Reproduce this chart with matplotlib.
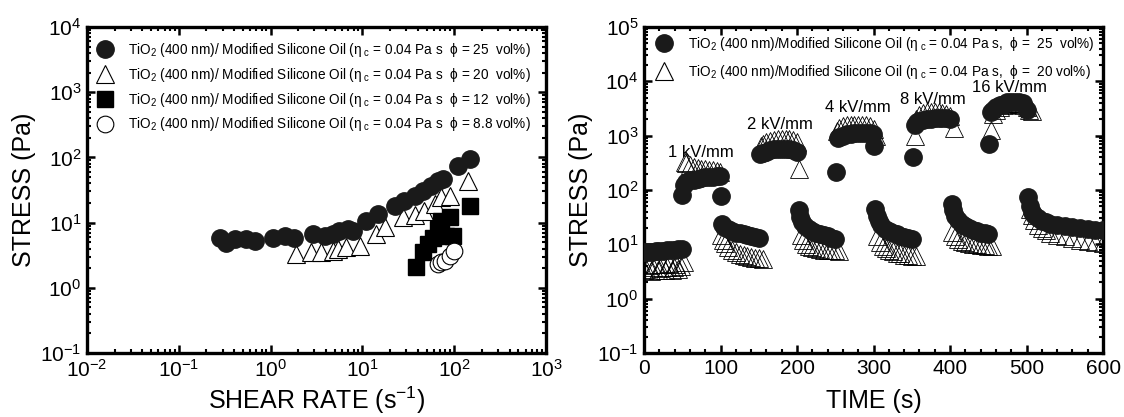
import matplotlib
matplotlib.use("Agg")
import matplotlib.pyplot as plt
from matplotlib.ticker import LogLocator, MultipleLocator, NullFormatter
from matplotlib.lines import Line2D

plt.rcParams['font.family'] = ['Liberation Sans', 'DejaVu Sans']
plt.rcParams['mathtext.fontset'] = 'custom'
plt.rcParams['mathtext.rm'] = 'Liberation Sans'
plt.rcParams['mathtext.it'] = 'Liberation Sans:italic'
plt.rcParams['mathtext.bf'] = 'Liberation Sans:bold'
plt.rcParams['mathtext.sf'] = 'Liberation Sans'

# ---------------- Left panel data: stress vs shear rate ----------------
shear_25 = [0.28, 0.33, 0.41, 0.54, 0.67, 1.06, 1.42, 1.82, 2.88, 3.87, 4.76, 5.6, 6.9, 7.85,
            11, 14.7, 22.4, 28.7, 37, 45.5, 56, 66, 75, 110, 147]
stress_25 = [5.8, 4.9, 5.6, 5.6, 5.3, 5.9, 6.3, 5.9, 6.7, 6.3, 6.7, 7.5, 7.9, 7.5,
             10.7, 13.5, 18.2, 21.8, 26, 31, 37, 44, 47, 75, 96]

shear_20 = [1.9, 2.77, 3.55, 4.8, 5.4, 6.6, 9.3, 14, 17.4, 27.6, 37, 47, 61, 72, 89, 141]
stress_20 = [3.3, 3.5, 3.5, 3.7, 3.9, 4.2, 4.4, 6.7, 8.5, 12, 12.9, 15.3, 19.5, 24.5, 26, 44]

shear_12 = [38.5, 45.5, 51.6, 58.5, 66, 72, 82, 89, 97, 147]
stress_12 = [2.05, 3.5, 4.7, 5.9, 7.9, 10.7, 6.3, 12, 6.3, 18.2]

shear_88 = [66, 72, 78.5, 89, 100]
stress_88 = [2.3, 2.5, 2.6, 3.1, 3.7]

left_labels = [
    "TiO$_2$ (400 nm)/ Modified Silicone Oil (η$_{\\ \\mathrm{c}}$ = 0.04 Pa s  ϕ = 25  vol%)",
    "TiO$_2$ (400 nm)/ Modified Silicone Oil (η$_{\\ \\mathrm{c}}$ = 0.04 Pa s  ϕ = 20  vol%)",
    "TiO$_2$ (400 nm)/ Modified Silicone Oil (η$_{\\ \\mathrm{c}}$ = 0.04 Pa s  ϕ = 12  vol%)",
    "TiO$_2$ (400 nm)/ Modified Silicone Oil (η$_{\\ \\mathrm{c}}$ = 0.04 Pa s  ϕ = 8.8 vol%)",
]

# ---------------- Right panel data: stress vs time ----------------
time_25 = [0, 5, 10, 15, 20, 25, 30, 35, 40, 45, 49,
           50, 52, 55, 60, 65, 70, 75, 80, 85, 90, 95, 99,
           101, 102, 105, 110, 115, 120, 125, 130, 135, 140, 145, 150,
           152, 155, 160, 165, 170, 175, 180, 185, 190, 195, 200,
           202, 204, 207, 210, 215, 220, 225, 230, 235, 240, 245, 250,
           251, 253, 255, 260, 265, 270, 275, 280, 285, 290, 295, 299,
           301, 302, 304, 307, 310, 315, 320, 325, 330, 335, 340, 345, 350,
           352, 354, 357, 360, 365, 370, 375, 380, 385, 390, 395, 400,
           402, 404, 407, 410, 415, 420, 425, 430, 435, 440, 445, 450,
           451, 453, 456, 460, 465, 470, 475, 480, 485, 490, 495, 500,
           502, 504, 507, 510, 515, 520, 525, 530, 540, 550, 560, 570, 580, 590, 600]
stress_25_t = [7.2, 7.3, 7.3, 7.4, 7.5, 7.6, 7.7, 7.8, 7.9, 8.1, 8.3,
               82, 125, 140, 150, 155, 160, 165, 170, 172, 175, 178, 180,
               78, 24, 21, 19, 17.5, 16.5, 16, 15.2, 14.6, 14, 13.6, 13.2,
               450, 480, 510, 540, 560, 570, 575, 570, 560, 540, 510,
               42, 32, 26, 22, 19, 17.5, 16.5, 15.5, 14.8, 14, 13.2, 12.5,
               218, 900, 950, 1000, 1050, 1080, 1100, 1120, 1130, 1120, 1100, 1050,
               650, 45, 33, 27, 23, 19.5, 17.5, 16.5, 15.5, 14.5, 13.8, 13, 12.5,
               410, 1600, 1750, 1850, 1950, 2000, 2050, 2100, 2100, 2120, 2100, 2050,
               55, 42, 33, 28, 24, 21.5, 20, 18.5, 17.5, 16.5, 16, 15.5,
               700, 2700, 3000, 3300, 3600, 3900, 4100, 4200, 4250, 4200, 4000, 3000,
               75, 50, 40, 34, 30, 27, 25.5, 24, 22.5, 21.5, 20.5, 19.8, 19.2, 18.6, 18]

time_20 = [0, 3, 6, 9, 12, 15, 18, 21, 24, 27, 30, 33, 36, 39, 42, 45, 48, 52,
           53, 55, 60, 65, 70, 75, 80, 85, 90, 95, 99,
           101, 103, 106, 110, 115, 120, 125, 130, 135, 140, 145, 150, 155,
           153, 156, 160, 165, 170, 175, 180, 185, 190, 195, 200, 203,
           205, 208, 212, 216, 220, 225, 230, 235, 240, 245, 250, 255,
           252, 255, 260, 265, 270, 275, 280, 285, 290, 295, 300, 303,
           305, 308, 312, 316, 320, 325, 330, 335, 340, 345, 350, 355,
           354, 356, 360, 365, 370, 375, 380, 385, 390, 395, 400, 405,
           403, 406, 410, 415, 420, 425, 430, 435, 440, 445, 450, 455,
           454, 456, 460, 465, 470, 475, 480, 485, 490, 495, 500, 503, 507,
           505, 507, 510, 515, 520, 525, 530, 540, 550, 560, 570, 580, 590, 600]
stress_20_t = [3.3, 3.5, 4.2, 3.2, 3.8, 4.4, 3.3, 3.6, 4.3, 3.4, 3.8, 4.5, 3.4, 3.9, 4.4, 3.5, 4.0, 4.7,
               330, 320, 290, 270, 255, 245, 240, 235, 230, 225, 215,
               15, 12, 10.5, 9, 8, 7.2, 6.7, 6.3, 6.0, 5.8, 5.6, 5.5, 5.4,
               650, 700, 760, 800, 830, 850, 860, 860, 850, 830, 780, 240,
               15, 12, 10, 9.2, 8.8, 8.5, 8.2, 8.0, 7.9, 7.8, 7.7, 7.6,
               1200, 1400, 1500, 1550, 1600, 1600, 1600, 1580, 1550, 1500, 1300, 1000,
               14, 11, 9.5, 8.5, 8.0, 7.5, 7.0, 6.8, 6.4, 6.3, 6.2, 6.2,
               1000, 2000, 2400, 2600, 2700, 2750, 2750, 2700, 2650, 2500, 2300, 1400,
               17, 14, 12.5, 11.5, 11, 10.5, 10.2, 10, 9.8, 9.6, 9.5, 9.4,
               1250, 2500, 3000, 3400, 3700, 3900, 4000, 4000, 3900, 3700, 3300, 3000, 2800,
               45, 35, 28, 23, 20, 18, 16.5, 15, 14, 13, 12.2, 11.5, 11, 10.5]

right_labels = [
    "TiO$_2$ (400 nm)/Modified Silicone Oil (η$_{\\ \\mathrm{c}}$ = 0.04 Pa s,  ϕ =  25  vol%)",
    "TiO$_2$ (400 nm)/Modified Silicone Oil (η$_{\\ \\mathrm{c}}$ = 0.04 Pa s,  ϕ =  20 vol%)",
]

field_labels = ["1 kV/mm", "2 kV/mm", "4 kV/mm", "8 kV/mm", "16 kV/mm"]
field_label_t = [74, 178, 279, 377, 478]
field_label_y = [480, 1580, 3240, 4570, 7600]

# ---------------- Figure ----------------
fig = plt.figure(figsize=(11.24, 4.17), dpi=100)
axL = fig.add_axes([0.0774, 0.1535, 0.4084, 0.7818])
axR = fig.add_axes([0.573, 0.1535, 0.4084, 0.7818])

SPW = 2.4
TICKFS = 15


def style(ax):
    for s in ax.spines.values():
        s.set_linewidth(SPW)
    ax.tick_params(which='both', direction='in', top=True, right=True,
                   labelsize=TICKFS, pad=4)
    ax.tick_params(which='major', length=6, width=1.8)
    ax.tick_params(which='minor', length=3, width=1.5)


ms = 12.5
LEGFS = 9.8
# Left panel
axL.plot(shear_20, stress_20, linestyle='none', marker='^', ms=ms, mfc='white', mec='black', mew=0.8, zorder=3)
axL.plot(shear_12, stress_12, linestyle='none', marker='s', ms=ms - 1, mfc='black', mec='black', zorder=4)
axL.plot(shear_88, stress_88, linestyle='none', marker='o', ms=ms - 0.5, mfc='white', mec='black', mew=0.8, zorder=4)
axL.plot(shear_25, stress_25, linestyle='none', marker='o', ms=ms, mfc='#1a1a1a', mec='#1a1a1a', zorder=5)
axL.set_xscale('log')
axL.set_yscale('log')
axL.set_xlim(1e-2, 1e3)
axL.set_ylim(1e-1, 1e4)
axL.xaxis.set_major_locator(LogLocator(base=10, numticks=12))
axL.yaxis.set_major_locator(LogLocator(base=10, numticks=12))
axL.xaxis.set_minor_locator(LogLocator(base=10, subs=range(2, 10), numticks=12))
axL.yaxis.set_minor_locator(LogLocator(base=10, subs=range(2, 10), numticks=12))
axL.xaxis.set_minor_formatter(NullFormatter())
axL.yaxis.set_minor_formatter(NullFormatter())
style(axL)
axL.set_xlabel("SHEAR RATE (s$^{-1}$)", fontsize=18, labelpad=3)
axL.set_ylabel("STRESS (Pa)", fontsize=18, labelpad=3)

hL = [Line2D([], [], ls='none', marker='o', ms=ms, mfc='#1a1a1a', mec='#1a1a1a'),
      Line2D([], [], ls='none', marker='^', ms=ms, mfc='white', mec='black', mew=0.8),
      Line2D([], [], ls='none', marker='s', ms=ms - 0.5, mfc='black', mec='black'),
      Line2D([], [], ls='none', marker='o', ms=ms - 0.5, mfc='white', mec='black', mew=0.8)]
axL.legend(hL, left_labels, loc='upper left', bbox_to_anchor=(0.016, 0.957), frameon=False,
           fontsize=LEGFS, handlelength=1.5, handletextpad=1.0, labelspacing=0.5,
           borderpad=0, borderaxespad=0)

# Right panel
axR.plot(time_20, stress_20_t, linestyle='none', marker='^', ms=13, mfc='none', mec='black', mew=0.6, zorder=3)
axR.plot(time_25, stress_25_t, linestyle='none', marker='o', ms=ms, mfc='#1a1a1a', mec='#1a1a1a', zorder=4)
axR.set_yscale('log')
axR.set_xlim(0, 600)
axR.set_ylim(1e-1, 1e5)
axR.xaxis.set_major_locator(MultipleLocator(100))
axR.xaxis.set_minor_locator(MultipleLocator(20))
axR.yaxis.set_major_locator(LogLocator(base=10, numticks=12))
axR.yaxis.set_minor_locator(LogLocator(base=10, subs=range(2, 10), numticks=12))
axR.yaxis.set_minor_formatter(NullFormatter())
style(axR)
axR.set_xlabel("TIME (s)", fontsize=18, labelpad=8)
axR.set_ylabel("STRESS (Pa)", fontsize=18, labelpad=3)

for lab, t, y in zip(field_labels, field_label_t, field_label_y):
    axR.text(t, y, lab, ha='center', va='center', fontsize=12, zorder=6)

hR = [Line2D([], [], ls='none', marker='o', ms=ms, mfc='#1a1a1a', mec='#1a1a1a'),
      Line2D([], [], ls='none', marker='^', ms=13, mfc='none', mec='black', mew=0.8)]
axR.legend(hR, right_labels, loc='upper left', bbox_to_anchor=(0.021, 0.975), frameon=False,
           fontsize=LEGFS, handlelength=1.5, handletextpad=1.0, labelspacing=0.72,
           borderpad=0, borderaxespad=0)

fig.savefig("out.png", dpi=100)
